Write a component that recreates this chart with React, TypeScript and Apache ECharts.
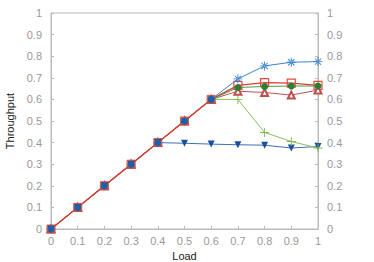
import React, { useEffect, useRef } from "react";
import * as echarts from "echarts";

const loads = [0, 0.1, 0.2, 0.3, 0.4, 0.5, 0.6, 0.7, 0.8, 0.9, 1];
const asteriskSeries = [0, 0.1, 0.2, 0.3, 0.4, 0.5, 0.6, 0.695, 0.755, 0.772, 0.775];
const triangleDownSeries = [0, 0.1, 0.2, 0.3, 0.4, 0.397, 0.393, 0.39, 0.388, 0.375, 0.382];
const plusSeries = [0, 0.1, 0.2, 0.3, 0.4, 0.5, 0.6, 0.6, 0.447, 0.405, 0.375];
const openTriangleSeries = [0, 0.1, 0.2, 0.3, 0.4, 0.5, 0.6, 0.638, 0.632, 0.62, 0.643];
const circleSeries = [0, 0.1, 0.2, 0.3, 0.4, 0.5, 0.6, 0.655, 0.66, 0.662, 0.662];
const squareSeries = [0, 0.1, 0.2, 0.3, 0.4, 0.5, 0.6, 0.665, 0.678, 0.675, 0.665];

const ASTERISK =
  "path://M-1,-0.1L1,-0.1L1,0.1L-1,0.1Z M-0.1,-1L0.1,-1L0.1,1L-0.1,1Z M-0.77,-0.63L0.63,0.77L0.77,0.63L-0.63,-0.77Z M0.63,-0.77L-0.77,0.63L-0.63,0.77L0.77,-0.63Z";
const PLUS = "path://M-1,-0.1L1,-0.1L1,0.1L-1,0.1Z M-0.1,-1L0.1,-1L0.1,1L-0.1,1Z";

const pairs = (ys: number[]) => loads.map((x, i) => [x, ys[i]]);

export default function App() {
  const ref = useRef<HTMLDivElement>(null);
  useEffect(() => {
    if (!ref.current) return;
    const chart = echarts.init(ref.current, undefined, { renderer: "svg" });
    const labelFmt = (v: number) => String(Math.round(v * 10) / 10);
    const axisLabel = {
      color: "#999999",
      fontSize: 11,
      fontFamily: "Liberation Sans",
      formatter: labelFmt,
    };
    const axisLine = { show: true, lineStyle: { color: "#bbbbbb", width: 1 } };
    const axisTick = { show: true, inside: true, length: 3, lineStyle: { color: "#bbbbbb" } };
    chart.setOption({
      animation: false,
      backgroundColor: "#ffffff",
      grid: {
        left: 51,
        right: 56,
        top: 13,
        bottom: 33,
        outerBoundsMode: "none",
        containLabel: false,
        show: true,
        borderColor: "#bbbbbb",
        borderWidth: 1,
      },
      xAxis: {
        type: "value",
        min: 0,
        max: 1,
        interval: 0.1,
        name: "Load",
        nameLocation: "middle",
        nameGap: 21,
        nameTextStyle: { color: "#222", fontSize: 11, fontFamily: "Liberation Sans" },
        axisLine,
        axisTick,
        axisLabel: { ...axisLabel, margin: 6 },
        splitLine: { show: false },
      },
      yAxis: [
        {
          type: "value",
          min: 0,
          max: 1,
          interval: 0.1,
          name: "Throughput",
          nameLocation: "middle",
          nameGap: 35,
          nameTextStyle: { color: "#222", fontSize: 11, fontFamily: "Liberation Sans" },
          axisLine,
          axisTick,
          axisLabel: { ...axisLabel, margin: 9 },
          splitLine: { show: false },
        },
        {
          type: "value",
          position: "right",
          min: 0,
          max: 1,
          interval: 0.1,
          axisLine,
          axisTick,
          axisLabel: { ...axisLabel, margin: 9 },
          splitLine: { show: false },
        },
      ],
      series: [
        {
          type: "line",
          data: pairs(asteriskSeries),
          symbol: ASTERISK,
          symbolSize: 9,
          lineStyle: { color: "#3a86d0", width: 1 },
          itemStyle: { color: "#2f7cc7" },
        },
        {
          type: "line",
          data: pairs(triangleDownSeries),
          symbol: "triangle",
          symbolRotate: 180,
          symbolSize: 7,
          lineStyle: { color: "#3d6fb6", width: 1 },
          itemStyle: { color: "#1b4f9c" },
        },
        {
          type: "line",
          data: pairs(plusSeries),
          symbol: PLUS,
          symbolSize: 9,
          lineStyle: { color: "#86c25a", width: 1 },
          itemStyle: { color: "#7cba4c" },
        },
        {
          type: "line",
          data: pairs(openTriangleSeries),
          symbol: "emptyTriangle",
          symbolSize: 7,
          lineStyle: { color: "#c0504d", width: 1 },
          itemStyle: { color: "#c0504d", borderWidth: 1 },
        },
        {
          type: "line",
          data: pairs(circleSeries).map((p, i) =>
            i <= 6 ? { value: p, itemStyle: { color: "#1f5fa8" } } : { value: p }
          ),
          symbol: "circle",
          symbolSize: 7,
          lineStyle: { color: "#43a047", width: 1 },
          itemStyle: { color: "#2e7d32" },
        },
        {
          type: "line",
          data: pairs(squareSeries).map((p, i) =>
            i <= 6
              ? {
                  value: p,
                  itemStyle: { color: "rgba(232,80,70,0.75)", borderColor: "#e8483f", borderWidth: 1 },
                }
              : { value: p }
          ),
          symbol: "rect",
          symbolSize: 8,
          z: 1,
          lineStyle: { color: "#e0392f", width: 1.2 },
          itemStyle: { color: "rgba(255,255,255,0)", borderColor: "#e8483f", borderWidth: 1.2 },
        },
        {
          type: "line",
          data: pairs(circleSeries).slice(0, 7).map((p) => ({ value: p })),
          symbol: "circle",
          symbolSize: 6,
          z: 3,
          lineStyle: { color: "#e0392f", width: 1.2 },
          itemStyle: { color: "#1f5fa8" },
        },
      ],
    });
    return () => chart.dispose();
  }, []);
  return (
    <div
      ref={ref}
      style={{ position: "fixed", left: 0, top: 0, width: 374, height: 262 }}
    />
  );
}
